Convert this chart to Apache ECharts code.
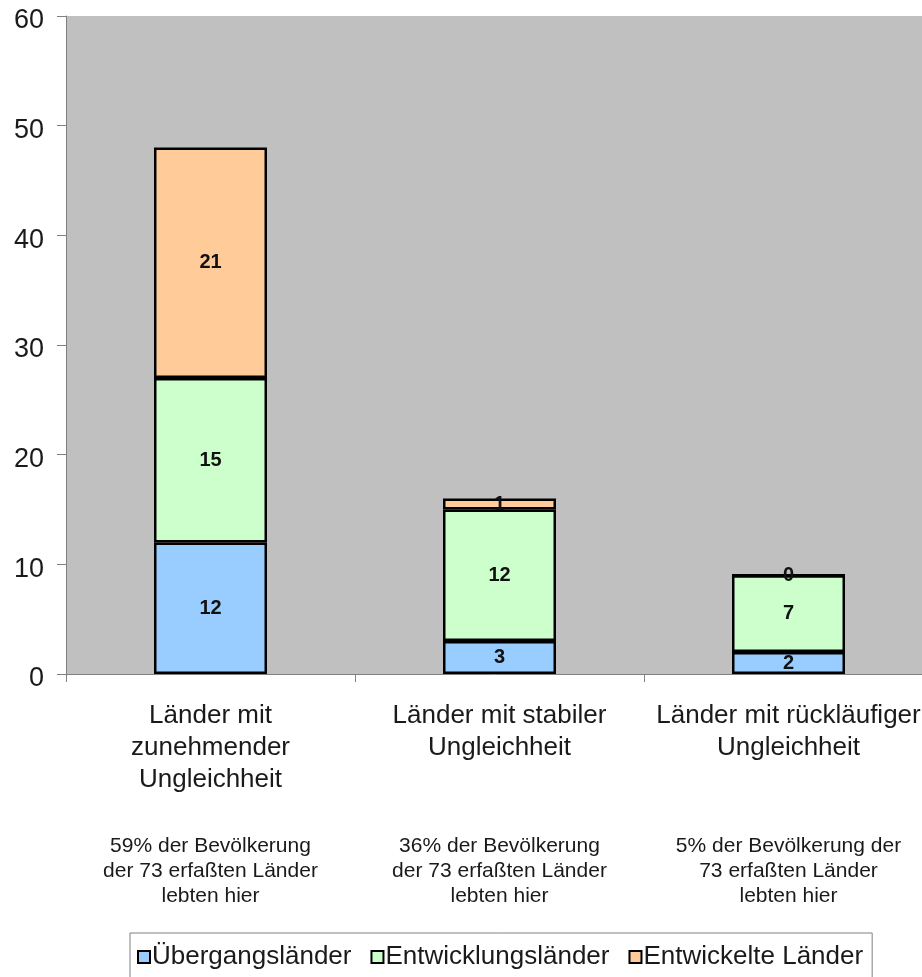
<!DOCTYPE html>
<html>
<head>
<meta charset="utf-8">
<style>
  html, body { margin: 0; padding: 0; background: #ffffff; }
  #chart { width: 922px; height: 977px; }
</style>
<script src="https://cdn.jsdelivr.net/npm/echarts@6/dist/echarts.min.js"></script>
</head>
<body>
<div id="chart"></div>
<script>
// Categories: main label and population note underneath
const categories = [
  'Länder mit\nzunehmender\nUngleichheit',
  'Länder mit stabiler\nUngleichheit',
  'Länder mit rückläufiger\nUngleichheit'
];
const populationNotes = [
  '59% der Bevölkerung\nder 73 erfaßten Länder\nlebten hier',
  '36% der Bevölkerung\nder 73 erfaßten Länder\nlebten hier',
  '5% der Bevölkerung der\n73 erfaßten Länder\nlebten hier'
];

// Number of countries per group
const seriesNames = ['Übergangsländer', 'Entwicklungsländer', 'Entwickelte Länder'];
const uebergangslaender = [12, 3, 2];
const entwicklungslaender = [15, 12, 7];
const entwickelteLaender = [21, 1, 0];

// Value axis ticks
const yMin = 0;
const yMax = 60;
const yStep = 10;

const colors = ['#99CCFF', '#CCFFCC', '#FFCC99'];
const seriesData = [uebergangslaender, entwicklungslaender, entwickelteLaender];

const FONT = '"Liberation Sans", Arial, sans-serif';

function categoryLabel(value, index) {
  const main = value.split('\n');
  while (main.length < 3) main.push(' ');
  const lines = main.map(l => '{m|' + l + '}');
  lines.push('{g| }');
  populationNotes[index].split('\n').forEach(l => lines.push('{s|' + l + '}'));
  return lines.join('\n');
}

const chart = echarts.init(document.getElementById('chart'), null, { renderer: 'canvas' });

chart.setOption({
  animation: false,
  backgroundColor: '#ffffff',
  textStyle: { fontFamily: FONT },
  grid: {
    left: 66,
    top: 16,
    width: 867,
    height: 658,
    outerBoundsMode: 'none',
    containLabel: false,
    show: true,
    backgroundColor: '#C0C0C0',
    borderWidth: 0
  },
  legend: {
    data: seriesNames,
    left: 130,
    top: 933,
    padding: [11, 9, 40, 7],
    backgroundColor: '#ffffff',
    borderColor: '#808080',
    borderWidth: 1,
    borderRadius: 0,
    icon: 'rect',
    itemWidth: 12,
    itemHeight: 12,
    itemGap: 19,
    itemStyle: { borderColor: '#000000', borderWidth: 2 },
    textStyle: { fontFamily: FONT, fontSize: 26, color: '#1a1a1a', padding: [0, 0, 0, -3] }
  },
  xAxis: {
    type: 'category',
    data: categories,
    axisLine: { show: true, lineStyle: { color: '#808080', width: 1 } },
    axisTick: { show: true, length: 8, lineStyle: { color: '#808080' } },
    axisLabel: {
      margin: 26,
      interval: 0,
      formatter: categoryLabel,
      rich: {
        m: { fontFamily: FONT, fontSize: 26, lineHeight: 32, color: '#1a1a1a', align: 'center' },
        g: { fontSize: 10, lineHeight: 38, align: 'center' },
        s: { fontFamily: FONT, fontSize: 21, lineHeight: 25, color: '#1a1a1a', align: 'center' }
      }
    }
  },
  yAxis: {
    type: 'value',
    min: yMin,
    max: yMax,
    interval: yStep,
    splitLine: { show: false },
    axisLine: { show: true, lineStyle: { color: '#808080', width: 1 } },
    axisTick: { show: true, length: 9, lineStyle: { color: '#808080' } },
    axisLabel: {
      fontFamily: FONT,
      fontSize: 27,
      color: '#1a1a1a',
      margin: 22,
      verticalAlign: 'top',
      lineHeight: 10
    }
  },
  series: seriesNames.map((name, i) => ({
    name: name,
    type: 'bar',
    stack: 'anzahl',
    barWidth: 113,
    data: seriesData[i],
    itemStyle: {
      color: colors[i],
      borderColor: '#000000',
      borderWidth: 2.5
    },
    label: {
      show: true,
      position: 'inside',
      formatter: '{c}',
      fontFamily: FONT,
      fontWeight: 'bold',
      fontSize: 20,
      color: '#111111'
    }
  }))
});
</script>
</body>
</html>
